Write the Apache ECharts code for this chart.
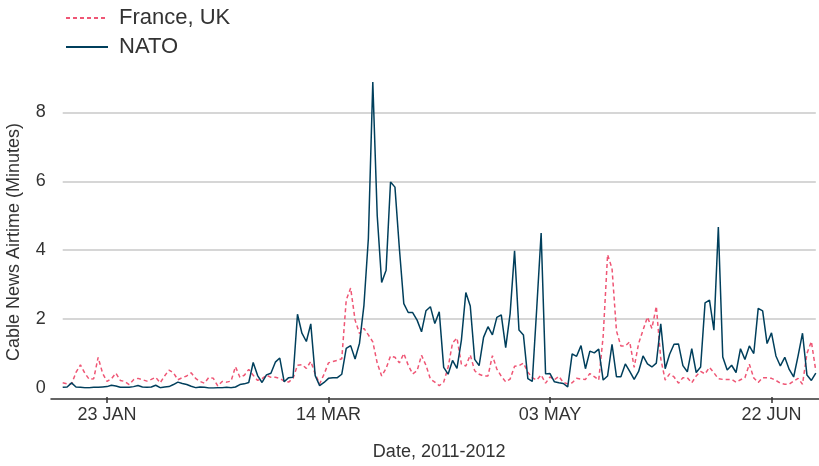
<!DOCTYPE html>
<html>
<head>
<meta charset="utf-8">
<script src="https://cdn.jsdelivr.net/npm/echarts@6/dist/echarts.min.js"></script>
<style>
html,body{margin:0;padding:0;background:#fff;}
#chart{width:819px;height:466px;}
</style>
</head>
<body>
<div id="chart"></div>
<script>
// Daily values, 13 Jan 2011 (day 0) to 2 Jul 2011 (day 170)
const franceUK = [
0.15,0.12,0.12,0.45,0.67,0.43,0.25,0.27,0.89,0.43,
0.19,0.27,0.43,0.22,0.19,0.10,0.24,0.28,0.24,0.20,
0.25,0.31,0.15,0.35,0.52,0.44,0.24,0.30,0.35,0.44,
0.28,0.19,0.14,0.31,0.28,0.06,0.19,0.17,0.20,0.62,
0.31,0.37,0.54,0.37,0.22,0.27,0.37,0.31,0.31,0.28,
0.20,0.17,0.28,0.66,0.68,0.57,0.77,0.41,0.12,0.40,
0.73,0.77,0.80,0.85,2.55,2.90,1.97,1.58,1.73,1.54,
1.34,0.72,0.35,0.57,0.93,0.89,0.73,1.00,0.66,0.41,
0.50,0.95,0.66,0.26,0.17,0.07,0.17,0.60,1.31,1.45,
0.69,0.64,0.96,0.50,0.40,0.35,0.35,0.94,0.55,0.34,
0.18,0.26,0.63,0.65,0.72,0.46,0.30,0.23,0.38,0.14,
0.32,0.24,0.34,0.16,0.12,0.15,0.28,0.26,0.25,0.42,
0.33,0.23,1.50,3.87,3.47,1.66,1.22,1.22,1.34,0.60,
1.29,1.68,2.06,1.73,2.37,0.85,0.23,0.41,0.32,0.14,
0.30,0.30,0.15,0.35,0.48,0.41,0.60,0.44,0.27,0.25,
0.25,0.25,0.17,0.24,0.30,0.69,0.29,0.16,0.30,0.30,
0.28,0.22,0.14,0.11,0.11,0.20,0.28,0.11,1.00,1.35,
0.50
];
const nato = [
0.02,0.03,0.15,0.03,0.02,0.01,0.01,0.02,0.02,0.03,
0.04,0.08,0.06,0.02,0.02,0.02,0.04,0.07,0.03,0.02,
0.03,0.08,0.01,0.03,0.04,0.10,0.17,0.13,0.10,0.05,
0.01,0.03,0.02,0.00,0.00,0.01,0.01,0.02,0.01,0.03,
0.10,0.12,0.16,0.74,0.36,0.16,0.38,0.43,0.75,0.87,
0.18,0.30,0.31,2.14,1.59,1.35,1.86,0.36,0.07,0.16,
0.28,0.30,0.30,0.40,1.15,1.23,0.84,1.30,2.40,4.34,
8.88,5.00,3.06,3.42,5.98,5.83,4.05,2.45,2.19,2.19,
1.97,1.63,2.24,2.36,1.87,2.21,0.60,0.40,0.80,0.57,
1.39,2.77,2.38,0.83,0.65,1.47,1.78,1.54,2.05,2.12,
1.17,2.16,3.98,1.68,1.54,0.27,0.19,2.30,4.50,0.41,
0.42,0.18,0.15,0.13,0.03,0.99,0.92,1.23,0.56,1.07,
1.02,1.13,0.23,0.35,1.27,0.33,0.33,0.70,0.48,0.25,
0.48,0.93,0.70,0.61,0.72,1.86,0.56,0.98,1.27,1.28,
0.65,0.47,1.14,0.45,0.61,2.47,2.55,1.68,4.67,0.90,
0.52,0.66,0.45,1.14,0.83,1.22,1.00,2.31,2.24,1.29,
1.60,0.93,0.64,0.89,0.54,0.32,0.93,1.59,0.38,0.22,
0.43
];
const tickDays = [10, 60, 110, 160];
const tickLabels = ['23 JAN', '14 MAR', '03 MAY', '22 JUN'];
const yTicks = [0, 2, 4, 6, 8];

const FONT = 'Liberation Sans, Arial, sans-serif';
const chart = echarts.init(document.getElementById('chart'), null, {renderer: 'canvas'});
const toPairs = arr => arr.map((v, i) => [i, v]);
const lastDay = franceUK.length - 1;

chart.setOption({
  animation: false,
  backgroundColor: '#ffffff',
  textStyle: {fontFamily: FONT},
  legend: {
    orient: 'vertical',
    left: 65,
    top: 7,
    padding: 0,
    itemWidth: 42,
    itemHeight: 14,
    itemGap: 7,
    itemStyle: {opacity: 0},
    data: ['France, UK', 'NATO'],
    textStyle: {fontSize: 22, color: '#333', fontFamily: FONT, padding: [0, 0, 0, 6]}
  },
  grid: [
    // plotting area (value 0 at y=388)
    {left: 62.7, right: 3.2, top: 71, bottom: 78, containLabel: false},
    // date axis ticks/labels (axis at y=399)
    {left: 62.7, right: 3.2, top: 71, bottom: 67, containLabel: false},
    // full-width axis line
    {left: 51, right: 0, top: 71, bottom: 67, containLabel: false}
  ],
  xAxis: [
    {type: 'value', gridIndex: 0, min: 0, max: lastDay, show: false},
    {
      type: 'value', gridIndex: 1, min: 0, max: lastDay,
      axisLine: {show: false},
      axisTick: {show: true, customValues: tickDays, length: 6, lineStyle: {color: '#333', width: 1.5}},
      axisLabel: {
        show: true, customValues: tickDays, margin: 9,
        fontSize: 18, color: '#333', fontFamily: FONT,
        formatter: v => { const k = tickDays.indexOf(Math.round(v)); return k >= 0 ? tickLabels[k] : ''; }
      },
      splitLine: {show: false},
      name: 'Date, 2011-2012', nameLocation: 'middle', nameGap: 46,
      nameTextStyle: {fontSize: 18, color: '#333', fontFamily: FONT}
    },
    {
      type: 'value', gridIndex: 2, min: 0, max: 1,
      axisLine: {show: true, lineStyle: {color: '#333', width: 1.5}},
      axisTick: {show: false}, axisLabel: {show: false}, splitLine: {show: false}
    }
  ],
  yAxis: [
    {
      type: 'value', gridIndex: 0, min: 0, max: 9.2, interval: 2,
      axisLine: {show: false}, axisTick: {show: false},
      axisLabel: {
        margin: 17, fontSize: 18, color: '#333', fontFamily: FONT,
        formatter: v => yTicks.indexOf(v) >= 0 ? String(v) : ''
      },
      splitLine: {show: true, lineStyle: {
        color: ['rgba(0,0,0,0)', '#c8c8c8', '#c8c8c8', '#c8c8c8', '#c8c8c8', 'rgba(0,0,0,0)'],
        width: 1.5
      }}
    },
    {type: 'value', gridIndex: 1, show: false, min: 0, max: 1},
    {type: 'value', gridIndex: 2, show: false, min: 0, max: 1}
  ],
  graphic: [{
    type: 'text', x: 14, y: 242, rotation: Math.PI / 2,
    style: {text: 'Cable News Airtime (Minutes)', fontSize: 18, fill: '#333', fontFamily: FONT,
            align: 'center', verticalAlign: 'middle'}
  }],
  series: [
    {
      name: 'France, UK', type: 'line', xAxisIndex: 0, yAxisIndex: 0,
      data: toPairs(franceUK), symbol: 'none', smooth: false,
      lineStyle: {color: '#ef5675', width: 1.5, type: [4, 3]},
      itemStyle: {color: '#ef5675'}, z: 2
    },
    {
      name: 'NATO', type: 'line', xAxisIndex: 0, yAxisIndex: 0,
      data: toPairs(nato), symbol: 'none', smooth: false,
      lineStyle: {color: '#003f5c', width: 1.5, type: 'solid'},
      itemStyle: {color: '#003f5c'}, z: 3
    }
  ]
});
</script>
</body>
</html>
